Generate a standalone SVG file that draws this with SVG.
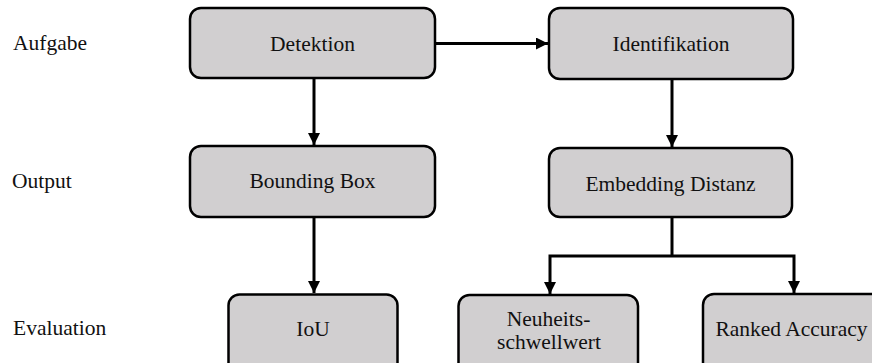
<svg xmlns="http://www.w3.org/2000/svg" width="872" height="363" viewBox="0 0 872 363">
  <style>
    .box { fill: #d1cfd0; stroke: #000; stroke-width: 2.5; }
    .lbl { font-family: "Liberation Serif", "DejaVu Serif", serif; font-size: 21.5px; fill: #111; }
    .mid { text-anchor: middle; }
    .conn { fill: none; stroke: #000; stroke-width: 3; }
  </style>
  <defs>
    <marker id="arrow" markerUnits="userSpaceOnUse" markerWidth="13" markerHeight="12" refX="12" refY="6" orient="auto">
      <path d="M0,0 L12,6 L0,12 Z" fill="#000"/>
    </marker>
  </defs>
  <rect width="872" height="363" fill="#fff"/>

  <!-- row labels -->
  <g id="row-labels">
    <text class="lbl" x="13" y="50">Aufgabe</text>
    <text class="lbl" x="12" y="188">Output</text>
    <text class="lbl" x="13" y="335">Evaluation</text>
  </g>

  <!-- connectors -->
  <g id="connectors">
    <path class="conn" d="M435,43.5 H548" marker-end="url(#arrow)"/>
    <path class="conn" d="M314,78 V145" marker-end="url(#arrow)"/>
    <path class="conn" d="M314,217 V293" marker-end="url(#arrow)"/>
    <path class="conn" d="M672,79 V147" marker-end="url(#arrow)"/>
    <path class="conn" d="M672,217 V256"/>
    <path class="conn" d="M672,256 H550 V294" marker-end="url(#arrow)"/>
    <path class="conn" d="M672,256 H794 V293" marker-end="url(#arrow)"/>
  </g>

  <!-- nodes -->
  <g id="detektion">
    <rect class="box" x="190" y="8" width="245" height="70" rx="11"/>
    <text class="lbl mid" x="312.5" y="51">Detektion</text>
  </g>
  <g id="identifikation">
    <rect class="box" x="549" y="8" width="244" height="71" rx="11"/>
    <text class="lbl mid" x="671" y="51">Identifikation</text>
  </g>
  <g id="bounding-box">
    <rect class="box" x="190" y="146" width="245" height="71" rx="11"/>
    <text class="lbl mid" x="312.5" y="188">Bounding Box</text>
  </g>
  <g id="embedding-distanz">
    <rect class="box" x="549" y="148" width="243" height="69" rx="11"/>
    <text class="lbl mid" x="670.5" y="191">Embedding Distanz</text>
  </g>
  <g id="iou">
    <rect class="box" x="228.5" y="294.5" width="169" height="80" rx="11"/>
    <text class="lbl mid" x="313" y="336">IoU</text>
  </g>
  <g id="neuheitsschwellwert">
    <rect class="box" x="458.5" y="295" width="179.5" height="80" rx="11"/>
    <text class="lbl mid" x="548.5" y="326">Neuheits-</text>
    <text class="lbl mid" x="549" y="349">schwellwert</text>
  </g>
  <g id="ranked-accuracy">
    <rect class="box" x="703" y="294" width="182" height="80" rx="11"/>
    <text class="lbl mid" x="791.5" y="336">Ranked Accuracy</text>
  </g>
</svg>
